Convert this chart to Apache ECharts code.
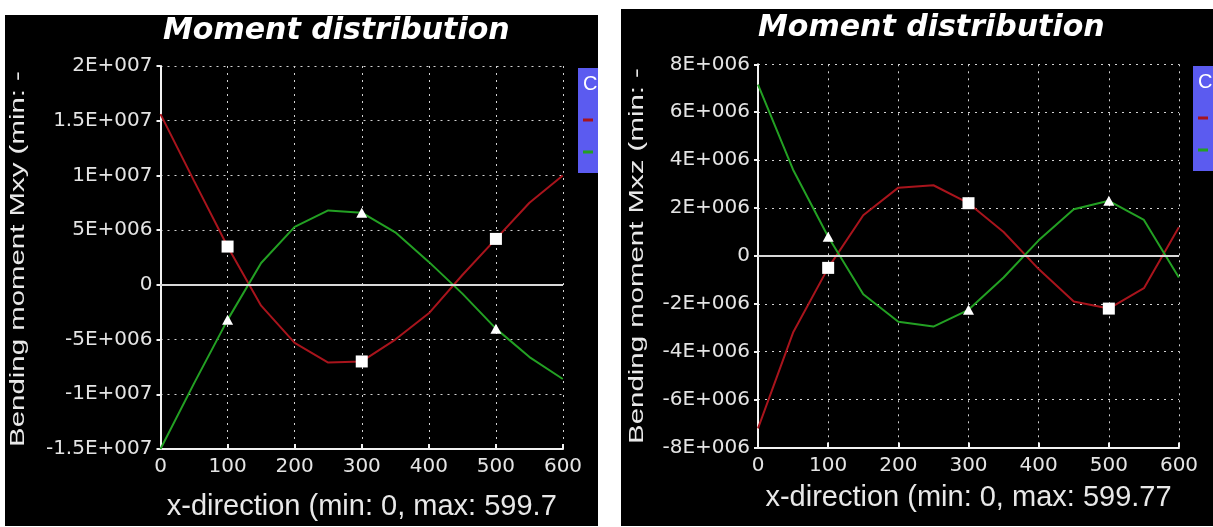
<!DOCTYPE html>
<html>
<head>
<meta charset="utf-8">
<script src="https://cdn.jsdelivr.net/npm/echarts@6/dist/echarts.min.js"></script>
<style>
  html, body { margin: 0; padding: 0; background: #ffffff; width: 1213px; height: 527px; overflow: hidden; }
  .panel { position: absolute; background: #000000; }
  #mxy { left: 5px; top: 15px; width: 593px; height: 511px; }
  #mxz { left: 621px; top: 9px; width: 592px; height: 517px; }
</style>
</head>
<body>
<div id="mxy" class="panel"></div>
<div id="mxz" class="panel"></div>
<script>
// Stations along the member (x-direction)
const xMxy = [0, 50, 100, 150, 200, 250, 300, 350, 400, 450, 500, 550, 599.7];
const xMxz = [0, 50, 100, 150, 200, 250, 300, 350, 400, 450, 500, 550, 599.77];

// Bending moment Mxy for the two cases
const mxyCase1 = [15.6e6, 9.5e6, 3.5e6, -1.9e6, -5.3e6, -7.1e6, -7.0e6, -5.0e6, -2.6e6, 0.9e6, 4.2e6, 7.5e6, 10.0e6];
const mxyCase2 = [-15.0e6, -9.0e6, -3.2e6, 2.0e6, 5.3e6, 6.8e6, 6.6e6, 4.8e6, 2.1e6, -0.8e6, -4.0e6, -6.6e6, -8.6e6];

// Bending moment Mxz for the two cases
const mxzCase1 = [-7.2e6, -3.2e6, -0.5e6, 1.7e6, 2.85e6, 2.95e6, 2.2e6, 1.0e6, -0.55e6, -1.9e6, -2.2e6, -1.35e6, 1.2e6];
const mxzCase2 = [7.15e6, 3.6e6, 0.8e6, -1.6e6, -2.75e6, -2.95e6, -2.25e6, -0.9e6, 0.65e6, 1.95e6, 2.3e6, 1.5e6, -0.9e6];

// Stations that carry a marker
const markerX = [100, 300, 500];

const caseNames = ['Case 1', 'Case 2'];
const caseColors = ['#a8141c', '#23a023'];
const legendTitle = 'Combinations';
const chartTitle = 'Moment distribution';

// 1.5E+007 style tick labels
function sci(v) {
  if (Math.abs(v) < 1e-9) return '0';
  const sign = v < 0 ? '-' : '';
  let a = Math.abs(v);
  let e = Math.floor(Math.log10(a) + 1e-9);
  let m = Math.round(a / Math.pow(10, e) * 100) / 100;
  if (m >= 10) { m /= 10; e += 1; }
  return sign + String(m) + 'E+' + String(e).padStart(3, '0');
}

const pair = (xs, ys) => xs.map((x, i) => [x, ys[i]]);
const markerSymbol = shape => (val => markerX.includes(val[0]) ? shape : 'none');

const tickFont = { color: '#e4e4e4', fontFamily: 'DejaVu Sans', fontSize: 20 };
const gridLine = { show: true, lineStyle: { color: '#d2d2d2', width: 1, type: [2, 5] } };
const axisLine = { show: true, onZero: false, lineStyle: { color: '#f2f2f2', width: 2 } };

function build(el, cfg) {
  const chart = echarts.init(document.getElementById(el), null, { renderer: 'canvas' });
  const w = chart.getWidth();
  const legendX = w - cfg.legendFromRight;
  chart.setOption({
    backgroundColor: '#000000',
    animation: false,
    title: {
      text: chartTitle,
      left: cfg.titleLeft, top: cfg.titleTop, padding: 0,
      textStyle: { color: '#ffffff', fontFamily: 'DejaVu Sans', fontStyle: 'italic', fontWeight: 'bold', fontSize: 30 }
    },
    grid: cfg.grid,
    legend: {
      orient: 'vertical',
      left: legendX, top: cfg.legendTop,
      backgroundColor: '#5b5bf0',
      padding: [40, 60, 9, 5],
      itemGap: 8,
      itemWidth: 10, itemHeight: 3,
      icon: 'rect',
      textStyle: { color: '#ffffff', fontFamily: 'Liberation Sans', fontSize: 20, lineHeight: 24 },
      data: caseNames.map((n, i) => ({ name: n, itemStyle: { color: caseColors[i] } }))
    },
    graphic: [
      {
        type: 'text', x: legendX + 5, y: cfg.legendTop + 6, z: 100,
        style: { text: legendTitle, fill: '#ffffff', font: '20px "Liberation Sans"' }
      },
      {
        type: 'text', x: cfg.yNameX, y: cfg.yNameY, rotation: Math.PI / 2, scaleX: 1.47,
        style: { text: cfg.yName, fill: '#e8e8e8', font: '20px "Liberation Sans"', align: 'center', verticalAlign: 'middle' }
      }
    ],
    xAxis: {
      type: 'value', min: 0, max: 600, interval: 100,
      name: cfg.xName, nameLocation: 'middle', nameGap: cfg.xNameGap,
      nameTextStyle: { color: '#e8e8e8', fontFamily: 'Liberation Sans', fontSize: 29 },
      axisLine: axisLine,
      axisTick: { show: true, inside: true, length: 5, lineStyle: { color: '#f2f2f2', width: 2 } },
      axisLabel: Object.assign({ margin: 8 }, tickFont),
      splitLine: gridLine
    },
    yAxis: {
      type: 'value', min: cfg.yMin, max: cfg.yMax, interval: cfg.yStep,
      axisLine: axisLine,
      axisTick: { show: true, length: 4, lineStyle: { color: '#f2f2f2', width: 2 } },
      axisLabel: Object.assign({ margin: 8, formatter: sci }, tickFont),
      splitLine: gridLine
    },
    series: [
      {
        name: caseNames[0], type: 'line', data: pair(cfg.xs, cfg.s1),
        showSymbol: true, showAllSymbol: true,
        symbol: markerSymbol('rect'), symbolSize: 12,
        lineStyle: { color: caseColors[0], width: 2 },
        itemStyle: { color: '#ffffff', borderWidth: 0 },
        markLine: {
          silent: true, symbol: 'none', label: { show: false },
          lineStyle: { color: '#d8d8d8', width: 2, type: 'solid' },
          data: [{ yAxis: 0 }]
        },
        z: 3
      },
      {
        name: caseNames[1], type: 'line', data: pair(cfg.xs, cfg.s2),
        showSymbol: true, showAllSymbol: true,
        symbol: markerSymbol('triangle'), symbolSize: [11, 10],
        lineStyle: { color: caseColors[1], width: 2 },
        itemStyle: { color: '#ffffff', borderWidth: 0 },
        z: 3
      }
    ]
  });
  return chart;
}

build('mxy', {
  xs: xMxy, s1: mxyCase1, s2: mxyCase2,
  yMin: -1.5e7, yMax: 2e7, yStep: 5e6,
  grid: { left: 155.5, top: 51, right: 35, bottom: 77 },
  titleLeft: 158, titleTop: 1,
  legendFromRight: 20, legendTop: 53,
  xName: 'x-direction (min: 0, max: 599.7', xNameGap: 43,
  yName: 'Bending moment Mxy (min: -', yNameX: 13, yNameY: 244
});

build('mxz', {
  xs: xMxz, s1: mxzCase1, s2: mxzCase2,
  yMin: -8e6, yMax: 8e6, yStep: 2e6,
  grid: { left: 137, top: 55.3, right: 34, bottom: 78.5 },
  titleLeft: 137, titleTop: 4,
  legendFromRight: 20, legendTop: 57,
  xName: 'x-direction (min: 0, max: 599.77', xNameGap: 36,
  yName: 'Bending moment Mxz (min: -', yNameX: 16, yNameY: 247
});
</script>
</body>
</html>
